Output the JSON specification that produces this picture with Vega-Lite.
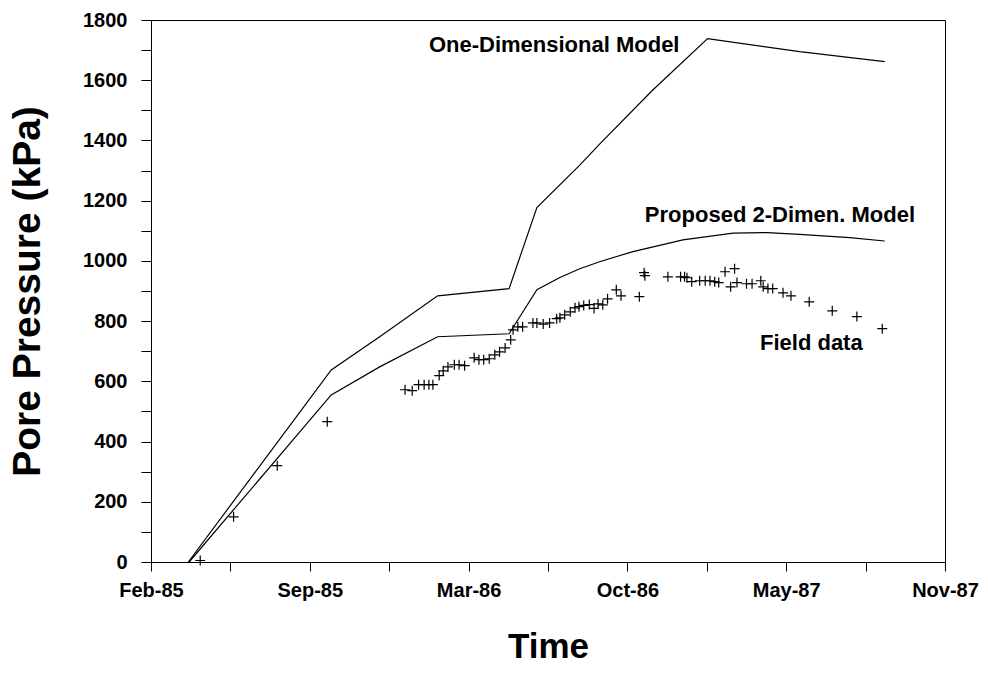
{
  "$schema": "https://vega.github.io/schema/vega-lite/v6.json",
  "width": 794,
  "height": 542,
  "autosize": "none",
  "padding": {"left": 151, "top": 20, "right": 43, "bottom": 111},
  "background": "white",
  "config": {
    "view": {"stroke": "black", "strokeWidth": 1},
    "font": "Liberation Sans",
    "axis": {"grid": false, "domainColor": "black", "tickColor": "black", "labelColor": "black", "titleColor": "black", "labelFont": "Liberation Sans", "titleFont": "Liberation Sans"}
  },
  "datasets": {
    "models": [
      {"series": "One-Dimensional Model", "date": "1985-04-10", "pressure": 0},
      {"series": "One-Dimensional Model", "date": "1985-10-07", "pressure": 638},
      {"series": "One-Dimensional Model", "date": "1985-12-07", "pressure": 748},
      {"series": "One-Dimensional Model", "date": "1986-02-18", "pressure": 884},
      {"series": "One-Dimensional Model", "date": "1986-05-19", "pressure": 908},
      {"series": "One-Dimensional Model", "date": "1986-06-23", "pressure": 1177},
      {"series": "One-Dimensional Model", "date": "1986-08-16", "pressure": 1318},
      {"series": "One-Dimensional Model", "date": "1986-09-10", "pressure": 1388},
      {"series": "One-Dimensional Model", "date": "1986-11-15", "pressure": 1565},
      {"series": "One-Dimensional Model", "date": "1987-01-24", "pressure": 1738},
      {"series": "One-Dimensional Model", "date": "1987-05-20", "pressure": 1695},
      {"series": "One-Dimensional Model", "date": "1987-09-04", "pressure": 1662},
      {"series": "Proposed 2-Dimen. Model", "date": "1985-04-11", "pressure": 0},
      {"series": "Proposed 2-Dimen. Model", "date": "1985-10-07", "pressure": 555},
      {"series": "Proposed 2-Dimen. Model", "date": "1985-12-07", "pressure": 648},
      {"series": "Proposed 2-Dimen. Model", "date": "1986-02-18", "pressure": 748},
      {"series": "Proposed 2-Dimen. Model", "date": "1986-05-19", "pressure": 758},
      {"series": "Proposed 2-Dimen. Model", "date": "1986-06-23", "pressure": 904},
      {"series": "Proposed 2-Dimen. Model", "date": "1986-07-22", "pressure": 945},
      {"series": "Proposed 2-Dimen. Model", "date": "1986-08-16", "pressure": 974},
      {"series": "Proposed 2-Dimen. Model", "date": "1986-09-10", "pressure": 997},
      {"series": "Proposed 2-Dimen. Model", "date": "1986-10-22", "pressure": 1031},
      {"series": "Proposed 2-Dimen. Model", "date": "1986-12-24", "pressure": 1070},
      {"series": "Proposed 2-Dimen. Model", "date": "1987-02-25", "pressure": 1092},
      {"series": "Proposed 2-Dimen. Model", "date": "1987-04-09", "pressure": 1094},
      {"series": "Proposed 2-Dimen. Model", "date": "1987-05-20", "pressure": 1088},
      {"series": "Proposed 2-Dimen. Model", "date": "1987-07-22", "pressure": 1077},
      {"series": "Proposed 2-Dimen. Model", "date": "1987-09-04", "pressure": 1066}
    ],
    "field": [
      {"date": "1985-04-25", "pressure": 5},
      {"date": "1985-06-06", "pressure": 150},
      {"date": "1985-07-31", "pressure": 320},
      {"date": "1985-10-02", "pressure": 466},
      {"date": "1986-01-08", "pressure": 572},
      {"date": "1986-01-17", "pressure": 569},
      {"date": "1986-01-25", "pressure": 589},
      {"date": "1986-02-01", "pressure": 589},
      {"date": "1986-02-07", "pressure": 589},
      {"date": "1986-02-12", "pressure": 589},
      {"date": "1986-02-20", "pressure": 619},
      {"date": "1986-02-25", "pressure": 635},
      {"date": "1986-03-03", "pressure": 648},
      {"date": "1986-03-11", "pressure": 655},
      {"date": "1986-03-17", "pressure": 655},
      {"date": "1986-03-24", "pressure": 652},
      {"date": "1986-04-05", "pressure": 678},
      {"date": "1986-04-11", "pressure": 672},
      {"date": "1986-04-17", "pressure": 672},
      {"date": "1986-04-24", "pressure": 675},
      {"date": "1986-05-01", "pressure": 688},
      {"date": "1986-05-07", "pressure": 698},
      {"date": "1986-05-14", "pressure": 711},
      {"date": "1986-05-21", "pressure": 738},
      {"date": "1986-05-24", "pressure": 771},
      {"date": "1986-05-30", "pressure": 781},
      {"date": "1986-06-05", "pressure": 781},
      {"date": "1986-06-18", "pressure": 794},
      {"date": "1986-06-23", "pressure": 794},
      {"date": "1986-07-01", "pressure": 790},
      {"date": "1986-07-09", "pressure": 794},
      {"date": "1986-07-18", "pressure": 808},
      {"date": "1986-07-22", "pressure": 811},
      {"date": "1986-07-28", "pressure": 821},
      {"date": "1986-08-04", "pressure": 831},
      {"date": "1986-08-10", "pressure": 844},
      {"date": "1986-08-15", "pressure": 848},
      {"date": "1986-08-21", "pressure": 852},
      {"date": "1986-08-28", "pressure": 855},
      {"date": "1986-09-03", "pressure": 842},
      {"date": "1986-09-08", "pressure": 857},
      {"date": "1986-09-14", "pressure": 854},
      {"date": "1986-09-20", "pressure": 874},
      {"date": "1986-10-01", "pressure": 904},
      {"date": "1986-10-07", "pressure": 884},
      {"date": "1986-10-30", "pressure": 881},
      {"date": "1986-11-05", "pressure": 961},
      {"date": "1986-11-06", "pressure": 951},
      {"date": "1986-12-05", "pressure": 947},
      {"date": "1986-12-21", "pressure": 947},
      {"date": "1986-12-26", "pressure": 947},
      {"date": "1986-12-29", "pressure": 944},
      {"date": "1987-01-04", "pressure": 931},
      {"date": "1987-01-14", "pressure": 934},
      {"date": "1987-01-21", "pressure": 934},
      {"date": "1987-01-27", "pressure": 934},
      {"date": "1987-02-02", "pressure": 931},
      {"date": "1987-02-07", "pressure": 928},
      {"date": "1987-02-15", "pressure": 964},
      {"date": "1987-02-22", "pressure": 914},
      {"date": "1987-02-27", "pressure": 974},
      {"date": "1987-03-02", "pressure": 928},
      {"date": "1987-03-14", "pressure": 924},
      {"date": "1987-03-21", "pressure": 924},
      {"date": "1987-04-01", "pressure": 934},
      {"date": "1987-04-04", "pressure": 914},
      {"date": "1987-04-10", "pressure": 908},
      {"date": "1987-04-16", "pressure": 908},
      {"date": "1987-04-29", "pressure": 894},
      {"date": "1987-05-09", "pressure": 884},
      {"date": "1987-06-01", "pressure": 864},
      {"date": "1987-06-30", "pressure": 834},
      {"date": "1987-07-31", "pressure": 815},
      {"date": "1987-09-01", "pressure": 775}
    ],
    "labels": [
      {"text": "One-Dimensional Model", "date": "1986-02-07", "pressure": 1717},
      {"text": "Proposed 2-Dimen. Model", "date": "1986-11-06", "pressure": 1153},
      {"text": "Field data", "date": "1987-03-31", "pressure": 728}
    ]
  },
  "encoding": {
    "x": {
      "field": "date",
      "type": "temporal",
      "scale": {"type": "utc", "domain": [{"year": 1985, "month": 2, "date": 22, "utc": true}, {"year": 1987, "month": 11, "date": 19, "utc": true}]},
      "axis": {
        "title": "Time",
        "values": [
          {"year": 1985, "month": 2, "date": 22, "utc": true},
          {"year": 1985, "month": 6, "date": 2, "utc": true},
          {"year": 1985, "month": 9, "date": 10, "utc": true},
          {"year": 1985, "month": 12, "date": 19, "utc": true},
          {"year": 1986, "month": 3, "date": 29, "utc": true},
          {"year": 1986, "month": 7, "date": 7, "utc": true},
          {"year": 1986, "month": 10, "date": 15, "utc": true},
          {"year": 1987, "month": 1, "date": 23, "utc": true},
          {"year": 1987, "month": 5, "date": 3, "utc": true},
          {"year": 1987, "month": 8, "date": 11, "utc": true},
          {"year": 1987, "month": 11, "date": 19, "utc": true}
        ],
        "format": "%b-%y",
        "labelExpr": "indexof(['Feb-85','Sep-85','Mar-86','Oct-86','May-87','Nov-87'], datum.label) >= 0 ? datum.label : ''",
        "labelOverlap": false,
        "labelFlush": false,
        "labelFontSize": 20,
        "labelFontWeight": "bold",
        "labelPadding": 9,
        "tickSize": 9,
        "titleFontSize": 35,
        "titleFontWeight": "bold",
        "titleY": 84,
        "titleBaseline": "middle"
      }
    },
    "y": {
      "field": "pressure",
      "type": "quantitative",
      "scale": {"domain": [0, 1800], "nice": false},
      "axis": {
        "title": "Pore Pressure (kPa)",
        "values": [0, 100, 200, 300, 400, 500, 600, 700, 800, 900, 1000, 1100, 1200, 1300, 1400, 1500, 1600, 1700, 1800],
        "labelExpr": "datum.value % 200 === 0 ? datum.label : ''",
        "format": "d",
        "labelOverlap": false,
        "labelFlush": false,
        "labelFontSize": 20,
        "labelFontWeight": "bold",
        "labelPadding": 14,
        "tickSize": 10,
        "titleFontSize": 39,
        "titleFontWeight": "bold",
        "titleAngle": -90,
        "titleX": -124,
        "titleY": 271,
        "titleAlign": "center",
        "titleBaseline": "middle"
      }
    }
  },
  "layer": [
    {
      "data": {"name": "models"},
      "mark": {"type": "line", "color": "black", "strokeWidth": 1.2},
      "encoding": {"detail": {"field": "series"}}
    },
    {
      "data": {"name": "field"},
      "mark": {"type": "point", "shape": "M-1,0L1,0M0,-1L0,1", "size": 100, "filled": false, "color": "black", "strokeWidth": 1.2, "opacity": 1}
    },
    {
      "data": {"name": "labels"},
      "mark": {"type": "text", "align": "left", "baseline": "middle", "fontSize": 22, "fontWeight": "bold", "color": "black"},
      "encoding": {"text": {"field": "text"}}
    }
  ]
}
